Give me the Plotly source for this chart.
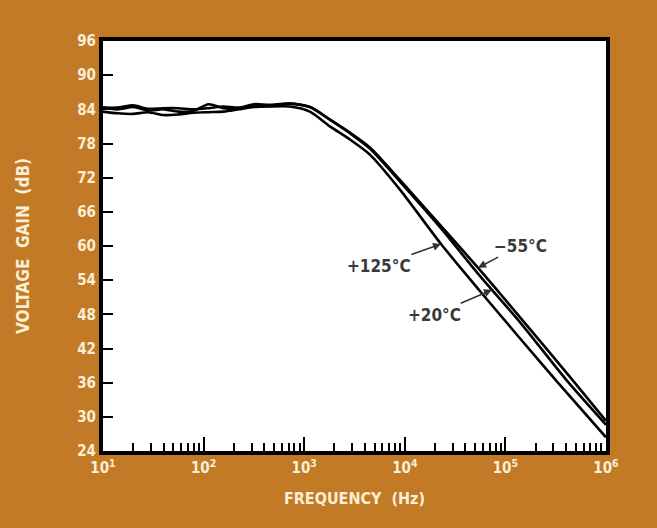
import math
import plotly.graph_objects as go

# ---- data ----
freq_125 = [10, 14, 20, 28, 40, 56, 79, 112, 158, 224, 316, 447, 720, 1140, 1800, 2850, 4500,
            8950, 22900, 56000, 140000, 326000, 1000000]
gain_125 = [83.6, 83.3, 83.2, 83.5, 83.0, 83.1, 83.4, 83.5, 83.6, 84.0, 84.4, 84.5, 84.5, 83.6, 81.0, 78.7, 76.05,
            69.9, 60.35, 52.06, 43.76, 36.18, 26.4]

freq_20 = [10, 14, 20, 28, 40, 56, 79, 112, 158, 224, 316, 447, 720, 1140, 1800, 2850, 4500,
           8950, 22400, 56000, 140000, 409000, 1000000]
gain_20 = [84.3, 84.0, 84.4, 83.8, 84.0, 83.6, 83.7, 84.9, 84.2, 84.1, 84.6, 84.6, 85.0, 84.4, 82.2, 79.8, 77.1,
           71.3, 63.3, 54.7, 46.6, 36.35, 28.6]

freq_m55 = [10, 14, 20, 28, 40, 56, 79, 112, 158, 224, 316, 447, 720, 1140, 1800, 2850, 4500,
            8950, 22400, 56000, 140000, 470000, 1000000]
gain_m55 = [84.3, 84.3, 84.7, 84.1, 84.2, 84.2, 84.0, 84.2, 84.5, 84.3, 84.9, 84.8, 85.0, 84.4, 82.2, 79.9, 77.3,
            71.6, 63.7, 55.76, 47.47, 36.35, 29.3]

x_tickvals = [10, 100, 1000, 10000, 100000, 1000000]
x_ticktext = ["10<sup>1</sup>", "10<sup>2</sup>", "10<sup>3</sup>", "10<sup>4</sup>", "10<sup>5</sup>", "10<sup>6</sup>"]
y_tickvals = [24, 30, 36, 42, 48, 54, 60, 66, 72, 78, 84, 90, 96]

labels = ["+125°C", "−55°C", "+20°C"]
label_tip_freq = [22900, 53500, 73600]
label_tip_gain = [60.35, 56.2, 52.3]

# ---- styling ----
BG = "#C27A27"
CREAM = "#FAEED5"
FONT = "DejaVu Sans Condensed, Liberation Sans Narrow, Arial Narrow, sans-serif"

fig = go.Figure()
for f, g in [(freq_125, gain_125), (freq_20, gain_20), (freq_m55, gain_m55)]:
    fig.add_trace(go.Scatter(x=f, y=g, mode="lines",
                             line=dict(color="black", width=2.6, shape="spline", smoothing=0.7),
                             showlegend=False, hoverinfo="skip"))

fig.update_layout(
    width=657, height=528,
    paper_bgcolor=BG, plot_bgcolor="white",
    margin=dict(l=103, r=51, t=41, b=77),
    font=dict(family=FONT, size=15, color=CREAM, weight="bold"),
    showlegend=False,
)
fig.update_xaxes(
    type="log", range=[1, 6],
    tickvals=x_tickvals, ticktext=x_ticktext,
    ticks="inside", ticklen=14, tickwidth=1.5, tickcolor="black",
    minor=dict(ticks="inside", ticklen=8, tickwidth=1.5, tickcolor="black", dtick="D1", showgrid=False),
    showgrid=False, zeroline=False,
    showline=True, linewidth=4, linecolor="black", mirror=True,
    tickfont=dict(family=FONT, size=15, color=CREAM, weight="bold"),
    title=dict(text="FREQUENCY  (Hz)", standoff=18,
               font=dict(family=FONT, size=16, color=CREAM, weight="bold")),
)
fig.update_yaxes(
    range=[24, 96], tickvals=y_tickvals,
    ticks="inside", ticklen=10, tickwidth=2, tickcolor="black",
    showgrid=False, zeroline=False,
    showline=True, linewidth=4, linecolor="black", mirror=True,
    tickfont=dict(family=FONT, size=15, color=CREAM, weight="bold"),
    title=dict(text="VOLTAGE  GAIN  (dB)", standoff=44,
               font=dict(family=FONT, size=17, color=CREAM, weight="bold")),
)

offsets = [(-62, 22), (42, -22), (-58, 25)]
for txt, fx, gy, (ax, ay) in zip(labels, label_tip_freq, label_tip_gain, offsets):
    fig.add_annotation(x=math.log10(fx), y=gy, xref="x", yref="y", text=txt,
                       showarrow=True, arrowhead=2, arrowsize=1, arrowwidth=1.6, arrowcolor="#333333",
                       ax=ax, ay=ay, standoff=0,
                       font=dict(family=FONT, size=17, color="#3a3a3a", weight="bold"))

fig.write_html("out.html", config={"displayModeBar": False},
               post_script="document.body.style.margin='0px';")
